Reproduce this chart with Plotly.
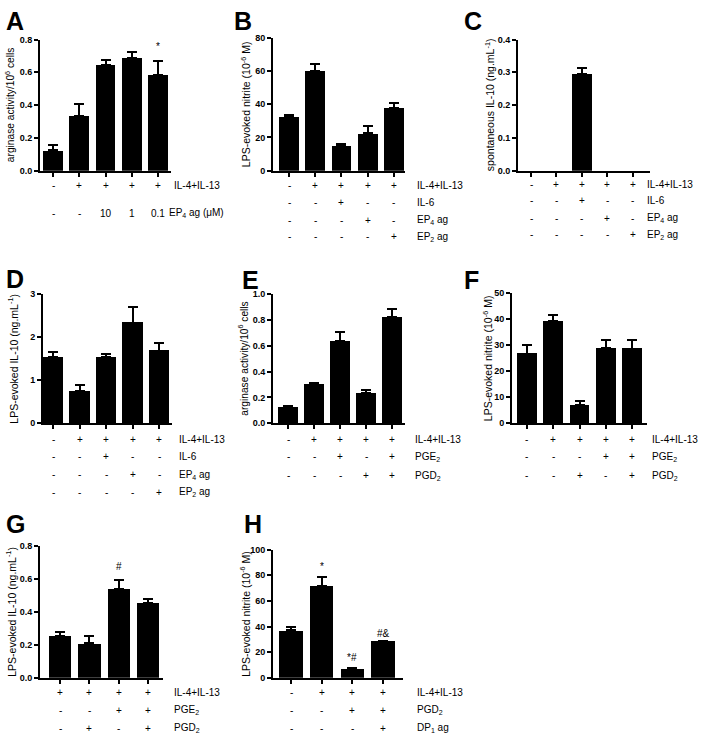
import plotly.graph_objects as go

W, H = 709, 746

# ---------------- data ----------------
a_vals = [0.125, 0.335, 0.645, 0.69, 0.585]
a_errs = [0.03, 0.07, 0.03, 0.035, 0.085]
a_rows = [("IL-4+IL-13", ["-", "+", "+", "+", "+"]),
          ("EP<sub>4</sub> ag (\u03bcM)", ["-", "-", "10", "1", "0.1"])]
a_marks = [("", 0), ("", 0), ("", 0), ("", 0), ("*", 0.71)]

b_vals = [32.8, 60.0, 15.0, 22.5, 37.8]
b_errs = [0.6, 4.4, 0.8, 4.3, 3.1]
# C: only the IL-6 condition gives detectable spontaneous IL-10
c_vals = [None, None, 0.295, None, None]
c_errs = [None, None, 0.018, None, None]
d_vals = [1.53, 0.76, 1.53, 2.34, 1.69]
d_errs = [0.13, 0.12, 0.07, 0.37, 0.17]
bcd_rows = [("IL-4+IL-13", ["-", "+", "+", "+", "+"]),
            ("IL-6", ["-", "-", "+", "-", "-"]),
            ("EP<sub>4</sub> ag", ["-", "-", "-", "+", "-"]),
            ("EP<sub>2</sub> ag", ["-", "-", "-", "-", "+"])]

e_vals = [0.127, 0.305, 0.634, 0.234, 0.824]
e_errs = [0.008, 0.005, 0.07, 0.026, 0.06]
e_rows = [("IL-4+IL-13", ["-", "+", "+", "+", "+"]),
          ("PGE<sub>2</sub>", ["-", "-", "+", "-", "+"]),
          ("PGD<sub>2</sub>", ["-", "-", "-", "+", "+"])]

f_vals = [26.8, 39.4, 6.9, 28.9, 28.7]
f_errs = [3.1, 2.3, 1.5, 3.2, 3.1]
f_rows = [("IL-4+IL-13", ["-", "+", "+", "+", "+"]),
          ("PGE<sub>2</sub>", ["-", "-", "-", "+", "+"]),
          ("PGD<sub>2</sub>", ["-", "-", "+", "-", "+"])]

g_vals = [0.255, 0.21, 0.539, 0.454]
g_errs = [0.025, 0.045, 0.054, 0.025]
g_rows = [("IL-4+IL-13", ["+", "+", "+", "+"]),
          ("PGE<sub>2</sub>", ["-", "-", "+", "+"]),
          ("PGD<sub>2</sub>", ["-", "+", "-", "+"])]
g_marks = [("", 0), ("", 0), ("#", 0.63), ("", 0)]

h_vals = [37, 72, 7, 29]
h_errs = [3, 6.5, 1, None]
h_rows = [("IL-4+IL-13", ["-", "+", "+", "+"]),
          ("PGD<sub>2</sub>", ["-", "-", "+", "+"]),
          ("DP<sub>1</sub> ag", ["-", "-", "-", "+"])]
h_marks = [("", 0), ("*", 81), ("*#", 10), ("#&", 29)]

# ---------------- layout geometry (pixels) ----------------
panels = [
    dict(letter="A", letter_xy=(4, 0), vals=a_vals, errs=a_errs, rows=a_rows, marks=a_marks,
         xpx=(40, 171), xr=(-0.5, 4.5), ypx=(35, 168), yr=(0, 0.8),
         yt=[0, 0.2, 0.4, 0.6, 0.8], fmt="{:.1f}",
         ytitle="arginase activity/10<sup>6</sup> cells", tx=10, tsize=10.2,
         rowy=[183, 211], lx=[172, 167]),
    dict(letter="B", letter_xy=(232, 0), vals=b_vals, errs=b_errs, rows=bcd_rows, marks=None,
         xpx=(273, 405), xr=(-0.61, 4.42), ypx=(33, 168), yr=(0, 80),
         yt=[0, 20, 40, 60, 80], fmt="{:.0f}",
         ytitle="LPS-evoked nitrite (10<sup>-6</sup> M)", tx=245, tsize=10.5,
         rowy=[183, 200, 218, 235], lx=[415] * 4),
    dict(letter="C", letter_xy=(462, 0), vals=c_vals, errs=c_errs, rows=bcd_rows, marks=None,
         xpx=(518, 650), xr=(-0.51, 4.67), ypx=(35, 168), yr=(0, 0.4),
         yt=[0, 0.1, 0.2, 0.3, 0.4], fmt="{:.1f}",
         ytitle="spontaneous IL-10 (ng.mL<sup>-1</sup>)", tx=489, tsize=10.5,
         rowy=[182, 198, 216, 233], lx=[645] * 4),
    dict(letter="D", letter_xy=(4, 262), vals=d_vals, errs=d_errs, rows=bcd_rows, marks=None,
         xpx=(43, 172), xr=(-0.38, 4.49), ypx=(293, 424), yr=(0, 3),
         yt=[0, 1, 2, 3], fmt="{:.0f}",
         ytitle="LPS-evoked IL-10 (ng.mL<sup>-1</sup>)", tx=13, tsize=10.5,
         rowy=[440, 458, 476, 494], lx=[177] * 4),
    dict(letter="E", letter_xy=(240, 263), vals=e_vals, errs=e_errs, rows=e_rows, marks=None,
         xpx=(273, 405), xr=(-0.58, 4.5), ypx=(293, 424), yr=(0, 1.0),
         yt=[0, 0.2, 0.4, 0.6, 0.8, 1.0], fmt="{:.1f}",
         ytitle="arginase activity/10<sup>6</sup> cells", tx=243, tsize=10.2,
         rowy=[440, 458, 477], lx=[413] * 3),
    dict(letter="F", letter_xy=(462, 263), vals=f_vals, errs=f_errs, rows=f_rows, marks=None,
         xpx=(512, 647), xr=(-0.57, 4.57), ypx=(292, 424), yr=(0, 50),
         yt=[0, 10, 20, 30, 40, 50], fmt="{:.0f}",
         ytitle="LPS-evoked nitrite (10<sup>-6</sup> M)", tx=487, tsize=10.5,
         rowy=[440, 458, 477], lx=[650] * 3),
    dict(letter="G", letter_xy=(4, 510), vals=g_vals, errs=g_errs, rows=g_rows, marks=g_marks,
         xpx=(40, 163), xr=(-0.68, 3.5), ypx=(548, 682), yr=(0, 0.8),
         yt=[0, 0.2, 0.4, 0.6, 0.8], fmt="{:.1f}",
         ytitle="LPS-evoked IL-10 (ng.mL<sup>-1</sup>)", tx=11, tsize=10.5,
         rowy=[697, 715, 733], lx=[172] * 3),
    dict(letter="H", letter_xy=(242, 510), vals=h_vals, errs=h_errs, rows=h_rows, marks=h_marks,
         xpx=(273, 403), xr=(-0.59, 3.65), ypx=(552, 682), yr=(0, 100),
         yt=[0, 20, 40, 60, 80, 100], fmt="{:.0f}",
         ytitle="LPS-evoked nitrite (10<sup>-6</sup> M)", tx=245, tsize=10.5,
         rowy=[697, 715, 733], lx=[415] * 3),
]

FONT = "Liberation Sans, Arial, sans-serif"


def px_x(x):
    return x / W


def px_y(y):
    return 1 - y / H


fig = go.Figure()
annotations = []
layout = dict(width=W, height=H, autosize=False, margin=dict(l=0, r=0, t=0, b=0),
              plot_bgcolor="white", paper_bgcolor="white", showlegend=False,
              bargap=0, font=dict(family=FONT, color="black"))

for i, p in enumerate(panels):
    n = i + 1
    xa = "x" if n == 1 else f"x{n}"
    ya = "y" if n == 1 else f"y{n}"
    cats = list(range(len(p["vals"])))
    fig.add_trace(go.Bar(
        x=cats, y=p["vals"], xaxis=xa, yaxis=ya, width=0.76,
        marker=dict(color="black", line=dict(width=0)),
        error_y=dict(type="data", array=p["errs"], arrayminus=[0] * len(cats),
                     symmetric=False, color="black", thickness=2, width=5),
        hoverinfo="skip"))
    xd = [px_x(p["xpx"][0]), px_x(p["xpx"][1])]
    yd = [px_y(p["ypx"][1]), px_y(p["ypx"][0])]
    layout["xaxis" if n == 1 else f"xaxis{n}"] = dict(
        domain=xd, range=list(p["xr"]), anchor=ya, showline=True, linewidth=2,
        linecolor="black", ticks="outside", ticklen=4, tickwidth=1.5, tickcolor="black",
        tickvals=cats, showticklabels=False, showgrid=False, zeroline=False, fixedrange=True)
    layout["yaxis" if n == 1 else f"yaxis{n}"] = dict(
        domain=yd, range=list(p["yr"]), anchor=xa, showline=True, linewidth=2,
        linecolor="black", ticks="outside", ticklen=4, tickwidth=1.5, tickcolor="black",
        tickvals=p["yt"], ticktext=[p["fmt"].format(v) for v in p["yt"]],
        tickfont=dict(size=9, family=FONT, color="black", weight="bold"),
        showgrid=False, zeroline=False, fixedrange=True)
    # panel letter
    annotations.append(dict(xref="paper", yref="paper", x=px_x(p["letter_xy"][0]),
                            y=px_y(p["letter_xy"][1]), xanchor="left", yanchor="top",
                            text=f"<b>{p['letter']}</b>", showarrow=False,
                            font=dict(size=25, family=FONT, color="black")))
    # y title
    annotations.append(dict(xref="paper", yref="paper", x=px_x(p["tx"]),
                            y=(yd[0] + yd[1]) / 2, xanchor="center", yanchor="middle",
                            textangle=-90, text=p["ytitle"], showarrow=False,
                            font=dict(size=p["tsize"], family=FONT, color="black")))
    # condition rows
    for (label, signs), ry, lx in zip(p["rows"], p["rowy"], p["lx"]):
        for c, s in zip(cats, signs):
            annotations.append(dict(xref=xa, yref="paper", x=c, y=px_y(ry),
                                    xanchor="center", yanchor="middle", text=s,
                                    showarrow=False,
                                    font=dict(size=10, family=FONT, color="black")))
        annotations.append(dict(xref="paper", yref="paper", x=px_x(lx), y=px_y(ry),
                                xanchor="left", yanchor="middle", text=label,
                                showarrow=False,
                                font=dict(size=10, family=FONT, color="black")))
    # significance marks
    if p["marks"]:
        for c, (t, yv) in zip(cats, p["marks"]):
            if t:
                annotations.append(dict(xref=xa, yref=ya, x=c, y=yv, xanchor="center",
                                        yanchor="bottom", text=t, showarrow=False,
                                        font=dict(size=10, family=FONT, color="black")))

layout["annotations"] = annotations
fig.update_layout(**layout)
fig.write_html("out.html", config={"displayModeBar": False},
               post_script="document.body.style.margin='0';")
